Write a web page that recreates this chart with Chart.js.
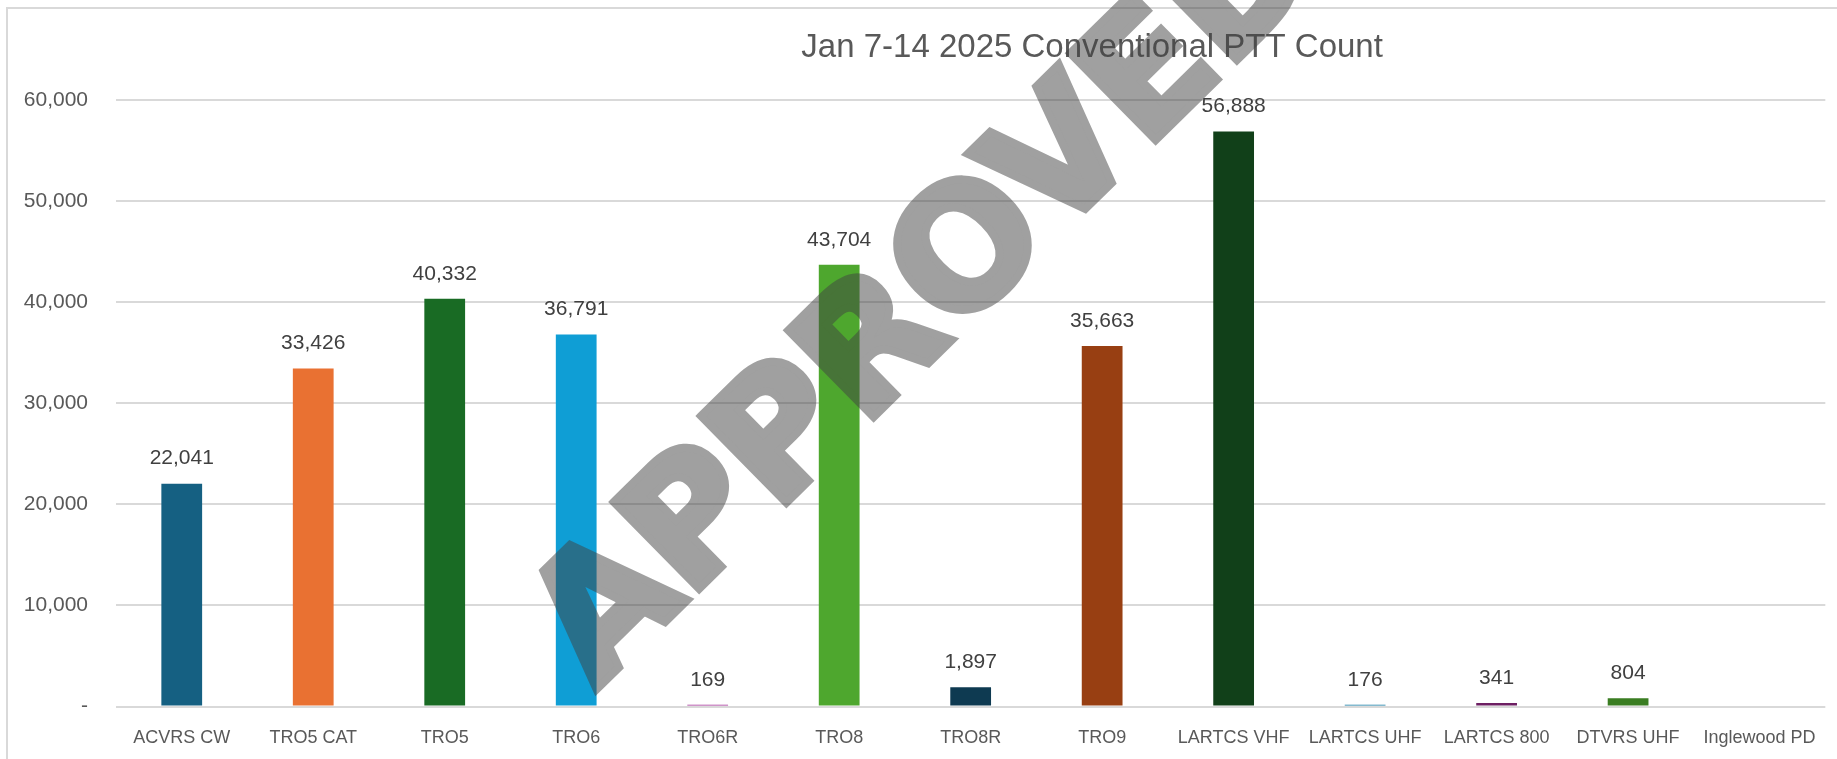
<!DOCTYPE html>
<html>
<head>
<meta charset="utf-8">
<script src="https://cdn.jsdelivr.net/npm/chart.js@4.4.1/dist/chart.umd.min.js"></script>
<style>
  html, body { margin: 0; padding: 0; background: #fff; overflow: hidden; }
  #wrap { position: absolute; left: 0; top: 0; width: 1837px; height: 759px; }
</style>
</head>
<body>
<div id="wrap"><canvas id="chart" width="1837" height="759"></canvas></div>
<script>
// values
const sites = ["ACVRS CW", "TRO5 CAT", "TRO5", "TRO6", "TRO6R", "TRO8", "TRO8R", "TRO9",
               "LARTCS VHF", "LARTCS UHF", "LARTCS 800", "DTVRS UHF", "Inglewood PD"];
const pttCount = [22041, 33426, 40332, 36791, 169, 43704, 1897, 35663, 56888, 176, 341, 804, null];
const barColors = ["#156082", "#E97132", "#196B24", "#0F9ED5", "#A02B93", "#4EA72E", "#0E3A51",
                   "#983F12", "#114019", "#0B76A0", "#6D1F63", "#3A7D22", "#1A7AA8"];
const yTicks = [0, 10000, 20000, 30000, 40000, 50000, 60000];
const chartTitle = "Jan 7-14 2025 Conventional PTT Count";
const watermark = "APPROVED";

const FONT = "'Liberation Sans', Arial, sans-serif";

function fmt(v) {
  if (v === 0) return "-";
  return v.toLocaleString("en-US");
}

// frame, title, value labels and the watermark
const decor = {
  id: "decor",
  beforeDraw(chart) {
    const ctx = chart.ctx;
    ctx.save();
    ctx.strokeStyle = "#d9d9d9";
    ctx.lineWidth = 2;
    ctx.strokeRect(7, 8, chart.width + 20, chart.height + 20);
    ctx.restore();
  },
  afterDatasetsDraw(chart) {
    const ctx = chart.ctx;
    const meta = chart.getDatasetMeta(0);
    ctx.save();
    ctx.font = "21px " + FONT;
    ctx.fillStyle = "#404040";
    ctx.textAlign = "center";
    ctx.textBaseline = "middle";
    meta.data.forEach((bar, i) => {
      const v = pttCount[i];
      if (v === null || v === undefined) return;
      ctx.fillText(fmt(v), bar.x, bar.y - 25);
    });
    ctx.restore();
  },
  afterDraw(chart) {
    const ctx = chart.ctx;
    ctx.save();
    ctx.font = "33px " + FONT;
    ctx.fillStyle = "#595959";
    ctx.textAlign = "center";
    ctx.textBaseline = "middle";
    ctx.fillText(chartTitle, chart.width * 0.5945, 48);
    ctx.restore();

    // big diagonal stamp across the plot, drawn opaque off-screen then blended
    const off = document.createElement("canvas");
    off.width = chart.width;
    off.height = chart.height;
    const o = off.getContext("2d");
    o.translate(596, 690);
    o.rotate(-44.5 * Math.PI / 180);
    o.font = "bold 167px 'DejaVu Sans', sans-serif";
    o.fillStyle = "#424242";
    o.strokeStyle = "#424242";
    o.lineWidth = 8;
    o.lineJoin = "miter";
    o.textAlign = "left";
    o.textBaseline = "alphabetic";
    o.fillText(watermark, 0, 0);
    o.strokeText(watermark, 0, 0);
    ctx.save();
    ctx.globalAlpha = 0.5;
    ctx.drawImage(off, 0, 0);
    ctx.restore();
  }
};

new Chart(document.getElementById("chart"), {
  type: "bar",
  data: {
    labels: sites,
    datasets: [{
      data: pttCount,
      backgroundColor: barColors,
      borderWidth: 0,
      barPercentage: 0.31,
      categoryPercentage: 1.0
    }]
  },
  options: {
    responsive: false,
    devicePixelRatio: 1,
    animation: false,
    layout: { padding: { top: 100, right: 10, left: 0, bottom: 0 } },
    plugins: {
      legend: { display: false },
      tooltip: { enabled: false },
      title: { display: false }
    },
    scales: {
      x: {
        grid: { display: false, drawTicks: false },
        border: { display: false },
        ticks: { color: "#595959", font: { family: FONT, size: 18 }, padding: 21, maxRotation: 0, autoSkip: false },
        afterFit(s) { s.height = 52.5; }
      },
      y: {
        min: 0,
        max: 60000,
        afterBuildTicks(s) { s.ticks = yTicks.map(v => ({ value: v })); },
        grid: { color: "#d9d9d9", lineWidth: 2, drawTicks: false },
        border: { display: false },
        ticks: { color: "#595959", font: { family: FONT, size: 21 }, padding: 28, callback: v => fmt(v) },
        afterFit(s) { s.width = 116; }
      }
    }
  },
  plugins: [decor]
});
</script>
</body>
</html>
